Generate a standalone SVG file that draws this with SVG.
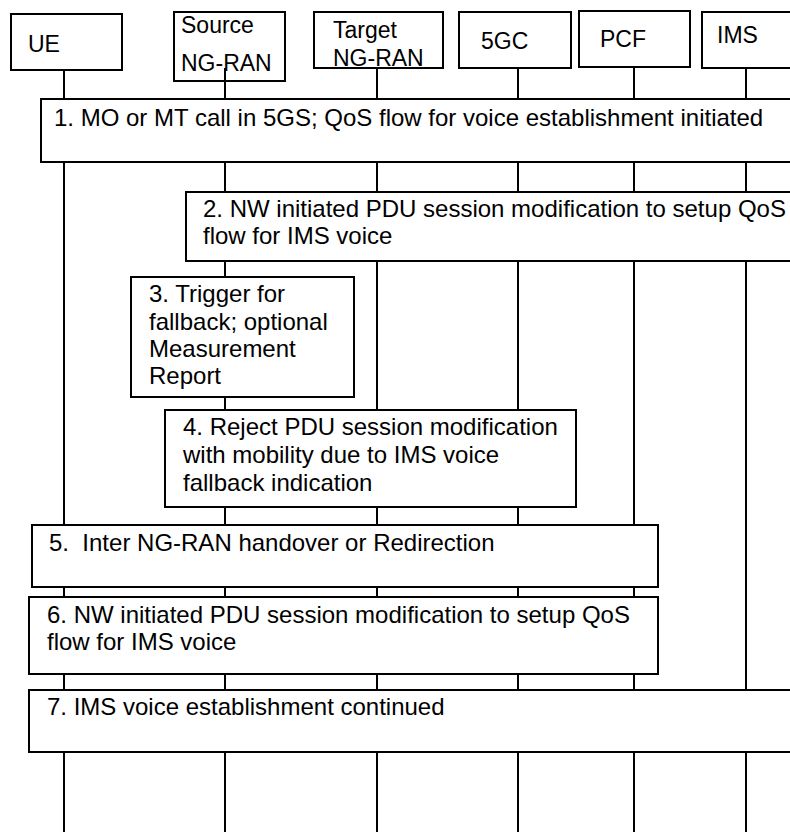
<svg xmlns="http://www.w3.org/2000/svg" width="790" height="832" viewBox="0 0 790 832">
<style>
  rect { fill: #fff; stroke: #000; stroke-width: 2; }
  text { font-family: "Liberation Sans", Arial, sans-serif; font-size: 24px; fill: #000; }
  .hdr { font-size: 23px; }
  .life line { stroke: #000; stroke-width: 2; }
</style>
<rect x="0" y="0" width="790" height="832" style="stroke:none;fill:#fff"/>
<g id="ue"><rect x="11" y="14" width="111" height="56"/><text class="hdr" x="28" y="52">UE</text></g>
<g id="source-ngran"><rect x="174" y="12" width="111" height="69"/><text class="hdr" x="181" y="33">Source</text><text class="hdr" x="181" y="71">NG-RAN</text></g>
<g id="target-ngran"><rect x="314" y="12" width="129" height="56"/><text class="hdr" x="333" y="38">Target</text><text class="hdr" x="333" y="66">NG-RAN</text></g>
<g id="fivegc"><rect x="459" y="12" width="112" height="56"/><text class="hdr" x="481" y="49">5GC</text></g>
<g id="pcf"><rect x="579" y="11" width="111" height="56"/><text class="hdr" x="600" y="47">PCF</text></g>
<g id="ims"><rect x="702" y="12" width="100" height="56"/><text class="hdr" x="717" y="43">IMS</text></g>
<g id="connectors" class="life">
  <line x1="64" y1="70" x2="64" y2="832"/>
  <line x1="225" y1="68" x2="225" y2="832"/>
  <line x1="377" y1="68" x2="377" y2="832"/>
  <line x1="518" y1="68" x2="518" y2="832"/>
  <line x1="634" y1="67" x2="634" y2="832"/>
  <line x1="746" y1="68" x2="746" y2="832"/>
</g>
<g id="step1"><rect x="41" y="99" width="760" height="63"/><text x="54" y="126">1. MO or MT call in 5GS; QoS flow for voice establishment initiated</text></g>
<g id="step2"><rect x="186" y="192" width="615" height="69"/><text x="203" y="217">2. NW initiated PDU session modification to setup QoS</text><text x="203" y="244">flow for IMS voice</text></g>
<g id="step3"><rect x="131" y="277" width="223" height="120"/><text x="149" y="302">3. Trigger for</text><text x="149" y="330">fallback; optional</text><text x="149" y="357">Measurement</text><text x="149" y="384">Report</text></g>
<g id="step4"><rect x="165" y="410" width="411" height="97"/><text x="183" y="435">4. Reject PDU session modification</text><text x="183" y="463">with mobility due to IMS voice</text><text x="183" y="491">fallback indication</text></g>
<g id="step5"><rect x="32" y="525" width="626" height="62"/><text x="49" y="551" xml:space="preserve">5.  Inter NG-RAN handover or Redirection</text></g>
<g id="step6"><rect x="29" y="597" width="629" height="77"/><text x="47" y="623">6. NW initiated PDU session modification to setup QoS</text><text x="47" y="650">flow for IMS voice</text></g>
<g id="step7"><rect x="29" y="690" width="772" height="62"/><text x="47" y="715">7. IMS voice establishment continued</text></g>
</svg>
